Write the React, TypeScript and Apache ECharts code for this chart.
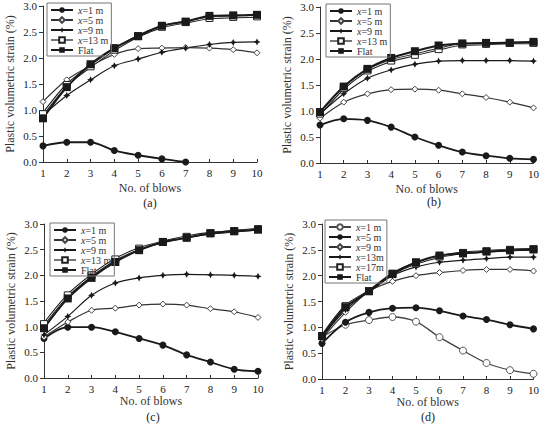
import React, { useEffect, useRef } from 'react';
import * as echarts from 'echarts';

// Number of blows (x axis)
const blows = [1, 2, 3, 4, 5, 6, 7, 8, 9, 10];

// Panel (a)
const aX1 = [0.31, 0.38, 0.38, 0.22, 0.13, 0.06, 0.0];
const aX5 = [1.16, 1.58, 1.85, 2.07, 2.18, 2.19, 2.2, 2.19, 2.16, 2.1];
const aX9 = [0.9, 1.28, 1.58, 1.85, 1.98, 2.11, 2.19, 2.26, 2.3, 2.31];
const aX13 = [0.92, 1.48, 1.84, 2.16, 2.42, 2.6, 2.69, 2.77, 2.79, 2.8];
const aFlat = [0.84, 1.44, 1.88, 2.19, 2.42, 2.62, 2.7, 2.81, 2.82, 2.83];

// Panel (b)
const bX1 = [0.73, 0.85, 0.82, 0.69, 0.5, 0.34, 0.21, 0.14, 0.09, 0.07];
const bX5 = [0.86, 1.17, 1.33, 1.41, 1.42, 1.4, 1.33, 1.26, 1.17, 1.06];
const bX9 = [0.94, 1.33, 1.63, 1.79, 1.9, 1.96, 1.97, 1.97, 1.97, 1.96];
const bX13 = [0.95, 1.44, 1.78, 1.97, 2.08, 2.19, 2.28, 2.29, 2.31, 2.31];
const bFlat = [0.98, 1.47, 1.81, 2.02, 2.15, 2.26, 2.3, 2.31, 2.31, 2.33];

// Panel (c)
const cX1 = [0.77, 0.99, 0.99, 0.9, 0.77, 0.64, 0.45, 0.31, 0.17, 0.13];
const cX5 = [0.8, 1.09, 1.32, 1.36, 1.42, 1.44, 1.42, 1.35, 1.29, 1.18];
const cX9 = [0.84, 1.2, 1.61, 1.85, 1.95, 2.0, 2.02, 2.01, 2.0, 1.98];
const cX13 = [1.05, 1.61, 2.0, 2.31, 2.52, 2.65, 2.75, 2.82, 2.86, 2.9];
const cFlat = [0.97, 1.55, 1.95, 2.26, 2.49, 2.65, 2.73, 2.82, 2.86, 2.89];

// Panel (d)
const dX1 = [0.81, 1.05, 1.14, 1.2, 1.11, 0.81, 0.55, 0.31, 0.17, 0.1];
const dX5 = [0.69, 1.1, 1.29, 1.37, 1.38, 1.32, 1.22, 1.15, 1.05, 0.97];
const dX9 = [0.78, 1.29, 1.7, 1.89, 2.0, 2.06, 2.1, 2.12, 2.12, 2.09];
const dX13 = [0.81, 1.34, 1.7, 2.0, 2.17, 2.26, 2.3, 2.33, 2.36, 2.36];
const dX17 = [0.83, 1.41, 1.7, 2.04, 2.24, 2.37, 2.44, 2.47, 2.5, 2.51];
const dFlat = [0.83, 1.39, 1.7, 2.03, 2.26, 2.39, 2.43, 2.47, 2.49, 2.51];

const FONT = '"Liberation Serif", "DejaVu Serif", serif';
const INK = '#1a1a1a';
const STAR = 'path://M5 0 L6.7 3.3 L10 5 L6.7 6.7 L5 10 L3.3 6.7 L0 5 L3.3 3.3 Z';

type Kind = 'dot' | 'ring' | 'diamond' | 'star' | 'box' | 'block';

interface Curve {
  id: string;
  label: string;
  values: number[];
  kind: Kind;
}

interface Panel {
  tag: string;
  grid: { left: number; top: number; width: number; height: number };
  legend: { left: number; top: number };
  caption: { x: number; y: number };
  titleGap: number;
  curves: Curve[];
}

const panels: Panel[] = [
  {
    tag: '(a)',
    grid: { left: 43, top: 6, width: 214, height: 156 },
    legend: { left: 47, top: 3 },
    caption: { x: 150, y: 203 },
    titleGap: 20,
    curves: [
      { id: 'a1', label: '{i|x}=1 m', values: aX1, kind: 'dot' },
      { id: 'a5', label: '{i|x}=5 m', values: aX5, kind: 'diamond' },
      { id: 'a9', label: '{i|x}=9 m', values: aX9, kind: 'star' },
      { id: 'a13', label: '{i|x}=13 m', values: aX13, kind: 'box' },
      { id: 'aF', label: 'Flat', values: aFlat, kind: 'block' },
    ],
  },
  {
    tag: '(b)',
    grid: { left: 320, top: 7, width: 214, height: 156 },
    legend: { left: 326, top: 4 },
    caption: { x: 434, y: 202 },
    titleGap: 20,
    curves: [
      { id: 'b1', label: '{i|x}=1 m', values: bX1, kind: 'dot' },
      { id: 'b5', label: '{i|x}=5 m', values: bX5, kind: 'diamond' },
      { id: 'b9', label: '{i|x}=9 m', values: bX9, kind: 'star' },
      { id: 'b13', label: '{i|x}=13 m', values: bX13, kind: 'box' },
      { id: 'bF', label: 'Flat', values: bFlat, kind: 'block' },
    ],
  },
  {
    tag: '(c)',
    grid: { left: 44, top: 224, width: 214, height: 154 },
    legend: { left: 50, top: 223 },
    caption: { x: 153, y: 417 },
    titleGap: 17,
    curves: [
      { id: 'c1', label: '{i|x}=1 m', values: cX1, kind: 'dot' },
      { id: 'c5', label: '{i|x}=5 m', values: cX5, kind: 'diamond' },
      { id: 'c9', label: '{i|x}=9 m', values: cX9, kind: 'star' },
      { id: 'c13', label: '{i|x}=13 m', values: cX13, kind: 'box' },
      { id: 'cF', label: 'Flat', values: cFlat, kind: 'block' },
    ],
  },
  {
    tag: '(d)',
    grid: { left: 322, top: 224, width: 212, height: 155 },
    legend: { left: 325, top: 220 },
    caption: { x: 428, y: 417 },
    titleGap: 17,
    curves: [
      { id: 'd1', label: '{i|x}=1 m', values: dX1, kind: 'ring' },
      { id: 'd5', label: '{i|x}=5 m', values: dX5, kind: 'dot' },
      { id: 'd9', label: '{i|x}=9 m', values: dX9, kind: 'diamond' },
      { id: 'd13', label: '{i|x}=13m', values: dX13, kind: 'star' },
      { id: 'd17', label: '{i|x}=17m', values: dX17, kind: 'box' },
      { id: 'dF', label: 'Flat', values: dFlat, kind: 'block' },
    ],
  },
];

const labelOf: Record<string, string> = {};
panels.forEach((p) => p.curves.forEach((c) => (labelOf[c.id] = c.label)));

function styleOf(kind: Kind) {
  switch (kind) {
    case 'dot':
      return { symbol: 'circle', symbolSize: 7, item: { color: INK }, line: { color: INK, width: 1.8 } };
    case 'ring':
      return {
        symbol: 'circle',
        symbolSize: 7,
        item: { color: '#fff', borderColor: '#555', borderWidth: 1 },
        line: { color: '#444', width: 1.3 },
      };
    case 'diamond':
      return {
        symbol: 'diamond',
        symbolSize: 6,
        item: { color: '#fff', borderColor: '#444', borderWidth: 1 },
        line: { color: '#333', width: 1.2 },
      };
    case 'star':
      return { symbol: STAR, symbolSize: 7, item: { color: INK }, line: { color: INK, width: 1.2 } };
    case 'box':
      return {
        symbol: 'rect',
        symbolSize: 7,
        item: { color: '#fff', borderColor: '#222', borderWidth: 1 },
        line: { color: '#fff', width: 0.9 },
      };
    case 'block':
    default:
      return { symbol: 'rect', symbolSize: 8, item: { color: INK }, line: { color: INK, width: 2 } };
  }
}

function buildOption() {
  const grid: any[] = [];
  const xAxis: any[] = [];
  const yAxis: any[] = [];
  const legend: any[] = [];
  const series: any[] = [];
  const graphic: any[] = [];

  panels.forEach((p, gi) => {
    grid.push({ ...p.grid, containLabel: false });
    xAxis.push({
      type: 'value',
      gridIndex: gi,
      min: 1,
      max: 10,
      interval: 1,
      name: 'No. of blows',
      nameLocation: 'middle',
      nameGap: p.titleGap,
      nameTextStyle: { fontFamily: FONT, fontSize: 12, fontWeight: 'normal', color: '#333' },
      axisLine: { show: true, onZero: false, lineStyle: { color: '#333', width: 1 } },
      axisTick: { show: true, inside: true, length: 3, lineStyle: { color: '#333' } },
      axisLabel: { fontFamily: FONT, fontSize: 11, color: '#222', margin: 5 },
      splitLine: { show: false },
    });
    yAxis.push({
      type: 'value',
      gridIndex: gi,
      min: 0,
      max: 3,
      interval: 0.5,
      name: 'Plastic volumetric strain (%)',
      nameLocation: 'middle',
      nameGap: 27,
      nameTextStyle: { fontFamily: FONT, fontSize: 12, fontWeight: 'normal', color: '#333' },
      axisLine: { show: true, lineStyle: { color: '#333', width: 1 } },
      axisTick: { show: true, inside: false, length: 4, lineStyle: { color: '#333' } },
      axisLabel: {
        fontFamily: FONT,
        fontSize: 11,
        color: '#222',
        margin: 6,
        formatter: (v: number) => v.toFixed(1),
      },
      splitLine: { show: false },
    });

    const legendData: any[] = [];
    p.curves.forEach((c) => {
      const s = styleOf(c.kind);
      const data = c.values.map((v, i) => [blows[i], v]);
      if (c.kind === 'box') {
        // dark outline beneath a thin white core gives the hollow stroke
        series.push({
          type: 'line',
          name: c.id + '-rim',
          xAxisIndex: gi,
          yAxisIndex: gi,
          data,
          smooth: 0.3,
          showSymbol: false,
          silent: true,
          lineStyle: { color: INK, width: 2.8 },
        });
        legendData.push({ name: c.id, lineStyle: { color: INK, width: 1.2 } });
      } else {
        legendData.push({ name: c.id });
      }
      series.push({
        type: 'line',
        name: c.id,
        xAxisIndex: gi,
        yAxisIndex: gi,
        data,
        smooth: 0.3,
        symbol: s.symbol,
        symbolSize: s.symbolSize,
        showAllSymbol: true,
        itemStyle: s.item,
        lineStyle: s.line,
      });
    });

    legend.push({
      orient: 'vertical',
      left: p.legend.left,
      top: p.legend.top,
      itemWidth: 22,
      itemHeight: 7,
      itemGap: 0,
      padding: [2, 3, 1, 3],
      borderColor: '#777',
      borderWidth: 1,
      selectedMode: false,
      data: legendData,
      formatter: (name: string) => labelOf[name] ?? name,
      textStyle: {
        fontFamily: FONT,
        fontSize: 10,
        lineHeight: 8.5,
        color: '#333',
        rich: {
          i: { fontFamily: FONT, fontSize: 10, lineHeight: 8.5, fontStyle: 'italic', color: '#333' },
        },
      },
    });

    graphic.push({
      type: 'text',
      x: p.caption.x,
      y: p.caption.y,
      style: {
        text: p.tag,
        font: `12px ${FONT}`,
        fill: '#222',
        align: 'center',
        verticalAlign: 'middle',
      },
    });
  });

  return {
    animation: false,
    backgroundColor: '#fff',
    grid,
    xAxis,
    yAxis,
    legend,
    series,
    graphic,
  };
}

export default function App() {
  const ref = useRef<HTMLDivElement>(null);
  useEffect(() => {
    if (!ref.current) return;
    const chart = echarts.init(ref.current, undefined, { renderer: 'svg' });
    chart.setOption(buildOption() as any);
    return () => chart.dispose();
  }, []);
  return (
    <div
      ref={ref}
      style={{ position: 'absolute', left: 0, top: 0, width: 542, height: 424, background: '#fff' }}
    />
  );
}
